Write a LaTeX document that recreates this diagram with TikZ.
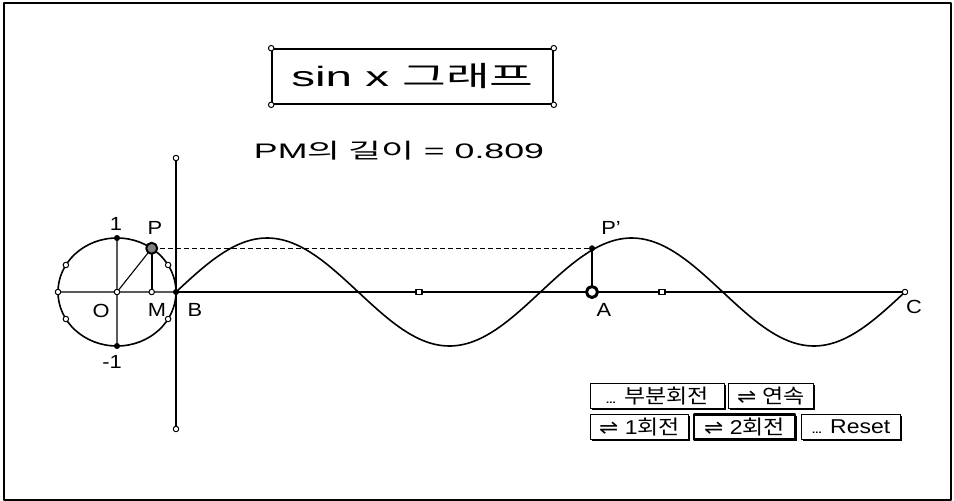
\documentclass[tikz,border=0pt]{standalone}
\usepackage{fontspec}
\setmainfont{Liberation Sans}
\newfontfamily\kr{Noto Sans CJK KR}
\newfontfamily\sym{DejaVu Sans}
\usetikzlibrary{positioning,shadows}
\newcommand{\hwide}[2]{\scalebox{#1}[1]{#2}}

\tikzset{
  openpt/.style={circle, draw, fill=white, inner sep=0pt, minimum size=5.5pt, line width=1pt},
  fullpt/.style={circle, draw, fill=black, inner sep=0pt, minimum size=5.5pt},
  tickpt/.style={rectangle, draw, fill=white, inner sep=0pt, minimum width=6pt, minimum height=4.5pt, line width=1.1pt},
  ptlabel/.style={font=\fontsize{19}{19}\selectfont, inner sep=0pt, xscale=1.15},
  button/.style={draw, line width=1pt, fill=white, minimum height=25pt, inner xsep=2pt,
    font=\fontsize{20}{20}\selectfont,
    drop shadow={shadow xshift=1.6pt, shadow yshift=-1.6pt, opacity=1, fill=black}},
}

\begin{document}
\begin{tikzpicture}[x=1pt, y=-1pt, line join=round]
    \useasboundingbox (0,0) rectangle (954,501);
    % Frame
    \draw[line width=1.5pt] (4,3) rectangle (951,500);

    % Title and length readout
    \node[draw, line width=1.6pt, minimum width=281pt, minimum height=55pt, font=\fontsize{28}{28}\selectfont]
        (title) at (412.5,76.5) {\hwide{1.7}{sin x {\kr 그래프}}};
    \foreach \c/\n in {north west/tnw, north east/tne, south west/tsw, south east/tse}
        \node[openpt] (\n) at (title.\c) {};
    \node[font=\fontsize{21}{21}\selectfont] (pmlen) at (399,151) {\hwide{1.7}{PM{\kr 의 길이} = 0.809}};

    % Points of the construction
    \coordinate (O) at (117,292);
    \coordinate (P) at (151.7,248.3);
    \coordinate (M) at (151.7,292);
    \coordinate (B) at (176,292);
    \coordinate (L) at (58,292);
    \coordinate (top) at (117,238);
    \coordinate (bot) at (117,346);
    \coordinate (A) at (592,292);
    \coordinate (Pp) at (592,248.3);
    \coordinate (C) at (905,292);
    \coordinate (vtop) at (176,158);
    \coordinate (vbot) at (176,429);

    % Unit circle and its segments
    \draw[line width=1.1pt] (vtop) -- (vbot);
    \draw[line width=1.6pt] (O) ellipse [x radius=59pt, y radius=54pt];
    \draw[line width=1.1pt] (L) -- (B) (top) -- (bot) (O) -- (P);
    \draw[line width=2.4pt] (P) -- (M);
    \draw[dash pattern=on 5pt off 3pt, line width=1.1pt] (P) -- (Pp);

    % Axis and sine curve
    \draw[line width=2.8pt] (B) -- (C);
    \draw[line width=1.6pt] (Pp) -- (A);
    \draw[line width=1.6pt, smooth] plot[domain=176:905, samples=120] (\x, {292-54*sin(0.98765*(\x-176))});

    % Point markers
    \foreach \a/\n in {30/q1, 150/q2, 210/q3, 330/q4}
        \node[openpt] (\n) at ({117+59*cos(\a)},{292-54*sin(\a)}) {};
    \node[openpt] (o-pt) at (O) {};
    \node[openpt] (l-pt) at (L) {};
    \node[openpt] (m-pt) at (M) {};
    \node[fullpt] (top-pt) at (top) {};
    \node[fullpt] (bot-pt) at (bot) {};
    \node[fullpt] (b-pt) at (B) {};
    \node[fullpt] (pp-pt) at (Pp) {};
    \node[openpt] (c-pt) at (C) {};
    \node[openpt] (vtop-pt) at (vtop) {};
    \node[openpt] (vbot-pt) at (vbot) {};
    \node[circle, draw, line width=2pt, fill=gray, minimum size=11pt, inner sep=0pt] (p-pt) at (P) {};
    \node[circle, draw, line width=3pt, fill=white, minimum size=11pt, inner sep=0pt] (a-pt) at (A) {};
    \node[tickpt] (third1) at (419,292) {};
    \node[tickpt] (third2) at (662,292) {};

    % Labels
    \node[ptlabel] (lbl-one) at (116,224) {1};
    \node[ptlabel] (lbl-mone) at (112,362) {-1};
    \node[ptlabel] (lbl-p) at (155,228) {P};
    \node[ptlabel] (lbl-o) at (101,311) {O};
    \node[ptlabel] (lbl-m) at (157,310) {M};
    \node[ptlabel] (lbl-b) at (195,310) {B};
    \node[ptlabel] (lbl-a) at (604,310) {A};
    \node[ptlabel] (lbl-pp) at (611,228) {P'};
    \node[ptlabel] (lbl-c) at (914,307) {C};

    % Buttons
    \node[button, minimum width=134pt, anchor=north west] (partial) at (590,383)
        {\hwide{1.15}{{\fontsize{10}{10}\selectfont\textbf{...}} {\kr 부분회전}}};
    \node[button, minimum width=85pt, right=3pt of partial] (cont)
        {\hwide{1.15}{{\sym ⇌} {\kr 연속}}};
    \node[button, minimum width=98pt, below=5pt of partial.south west, anchor=north west] (once)
        {\hwide{1.15}{{\sym ⇌} 1{\kr 회전}}};
    \node[button, minimum width=101pt, line width=2.2pt, right=4pt of once] (twice)
        {\hwide{1.15}{{\sym ⇌} 2{\kr 회전}}};
    \node[button, minimum width=99pt, right=5pt of twice] (reset)
        {\hwide{1.15}{{\fontsize{10}{10}\selectfont\textbf{...}} Reset}};
\end{tikzpicture}
\end{document}
